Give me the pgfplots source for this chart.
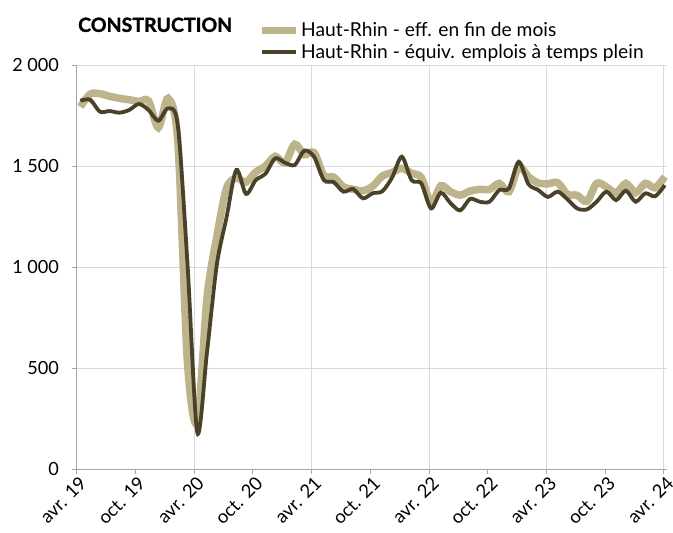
\documentclass[border=0pt]{standalone}
\usepackage{fontspec}
\setmainfont{Lato}
\usepackage{pgfplots}
\pgfplotsset{compat=1.18}
\usepackage{pgfplotstable}
\definecolor{lightc}{RGB}{190,180,140}
\definecolor{darkc}{RGB}{74,66,40}
\definecolor{gridc}{RGB}{217,217,217}
\definecolor{axc}{RGB}{166,166,166}

\pgfplotstableread{
i eff etp
0 1793 1823
1 1856 1828
2 1858 1769
3 1845 1772
4 1835 1764
5 1828 1777
6 1820 1807
7 1822 1777
8 1690 1724
9 1835 1785
10 1620 1700
11 520 1010
12 230 180
13 850 580
14 1150 1010
15 1390 1245
16 1440 1480
17 1420 1362
18 1470 1430
19 1500 1462
20 1548 1538
21 1515 1516
22 1608 1505
23 1556 1576
24 1566 1545
25 1452 1430
26 1445 1420
27 1397 1373
28 1385 1386
29 1377 1340
30 1400 1365
31 1450 1375
32 1468 1443
33 1488 1546
34 1464 1430
35 1443 1414
36 1316 1290
37 1402 1368
38 1373 1316
39 1356 1280
40 1376 1337
41 1384 1323
42 1384 1323
43 1414 1381
44 1373 1389
45 1496 1521
46 1447 1410
47 1416 1381
48 1412 1347
49 1417 1373
50 1360 1335
51 1355 1290
52 1325 1285
53 1414 1323
54 1397 1373
55 1367 1331
56 1414 1378
57 1368 1323
58 1414 1365
59 1392 1350
60 1447 1405
}\data

\begin{document}
\begin{tikzpicture}
\begin{axis}[
  scale only axis,
  width=590.8bp, height=404bp,
  xmin=0, xmax=60.35, ymin=0, ymax=2000,
  clip mode=individual,
  axis lines=left,
  axis line style={axc, -, line width=0.8bp},
  xtick={0,6,...,60},
  xticklabels={avr. 19, oct. 19, avr. 20, oct. 20, avr. 21, oct. 21, avr. 22, oct. 22, avr. 23, oct. 23, avr. 24},
  xticklabel style={rotate=45, anchor=north east, font=\fontsize{18.5}{22}\selectfont, inner sep=2bp, xshift=2.5bp},
  ytick={0,500,...,2000},
  yticklabels={0,500,1 000,1 500,2 000},
  yticklabel style={font=\fontsize{18.2}{21}\selectfont, xshift=-9bp},
  ymajorgrids,
  grid style={gridc, line width=0.8bp},
  extra x ticks={12,24,36,48,60},
  extra x tick labels={},
  extra x tick style={grid=major, major tick length=0pt},
  tick align=outside,
  major tick length=5bp,
  tick style={axc, line width=0.8bp},
  legend style={at={(axis description cs:0.308,1.01)}, anchor=south west, draw=none, fill=none,
    font=\fontsize{19.3}{22}\selectfont, row sep=4bp, inner sep=0pt, nodes={inner sep=1bp}},
  legend cell align=left,
  legend image code/.code={\draw[#1] (0bp,0bp) -- (34bp,0bp);},
]
\addplot[lightc, line width=7.5bp, smooth, tension=0.5] table[x expr=0.4+0.995*\thisrow{i}, y=eff] {\data};
\addlegendentry{Haut-Rhin - eff. en fin de mois}
\addplot[darkc, line width=3.8bp, smooth, tension=0.5] table[x expr=0.4+0.995*\thisrow{i}, y=etp] {\data};
\addlegendentry{Haut-Rhin - équiv. emplois à temps plein}
\node[anchor=base west, font=\fontsize{19.6}{22}\selectfont\bfseries\addfontfeatures{FakeBold=1.3}, inner sep=0pt] at (axis description cs:0.0025,1.082) {CONSTRUCTION};
\coordinate (bl) at (axis description cs:-0.1295,-0.1584);
\coordinate (tr) at (axis description cs:1.0097,1.1609);
\end{axis}
\pgfresetboundingbox
\path[use as bounding box] (bl) rectangle (tr);
\end{tikzpicture}
\end{document}
